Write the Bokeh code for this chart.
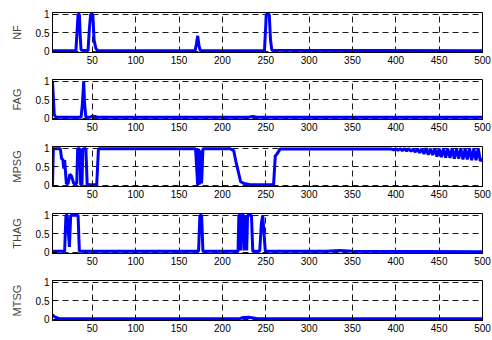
from bokeh.plotting import figure
from bokeh.layouts import column
from bokeh.models import Range1d, FixedTicker
from bokeh.embed import file_html
from bokeh.resources import INLINE

# ---------------- data ----------------
names = ["NF", "FAG", "MPSG", "THAG", "MTSG"]

nf_x = [4, 31, 32.5, 33.5, 35, 36, 37, 45, 46.5, 48, 50.5, 52, 54, 56, 168.5, 170, 171.5, 173, 174.5,
        248.5, 250, 250.5, 254, 255.5, 257, 500]
nf_y = [0.02, 0.02, 0.6, 1.0, 1.0, 0.4, 0.03, 0.02, 0.6, 1.0, 1.0, 0.3, 0.08, 0.02, 0.02, 0.2, 0.42, 0.15, 0.02,
        0.02, 0.7, 1.0, 1.0, 0.3, 0.03, 0.02]

fag_x = [4, 6, 8, 37, 38.5, 40, 41, 42.5, 47, 50, 53, 56, 230, 235, 240, 500]
fag_y = [1.0, 0.1, 0.03, 0.03, 0.4, 1.0, 0.4, 0.03, 0.03, 0.06, 0.05, 0.03, 0.03, 0.05, 0.03, 0.03]

mpsg_x = [4, 5, 13, 14.5, 16, 17, 18, 20, 22, 24, 26, 28.5, 32, 33, 35.5, 36.5, 38, 39, 42.5, 44, 55, 57,
          169, 171.5, 172.5, 173.5, 175, 176, 177.5, 209, 213, 215.5, 217, 219, 221, 225, 232, 259, 261,
          263, 266.5, 395,
          397.5, 400, 402.5, 405, 407.5, 410, 412.5, 415, 417.5, 420, 422.5, 425, 427.5, 430, 432.5, 435,
          437.5, 440, 442.5, 445, 447.5, 450, 452.5, 455, 457.5, 460, 462.5, 465, 467.5, 470, 472.5, 475,
          477.5, 480, 482.5, 485, 487.5, 490, 492.5, 495, 497.5, 500]
mpsg_y = [0.0, 0.99, 0.99, 0.72, 0.7, 0.45, 0.68, 0.05, 0.05, 0.3, 0.25, 0.05, 0.05, 0.99, 0.99, 0.02, 0.02,
          0.99, 0.99, 0.02, 0.02, 0.99,
          0.99, 0.0, 0.99, 0.02, 0.95, 0.05, 0.99, 0.99, 0.94, 0.65, 0.5, 0.3, 0.1, 0.05, 0.02, 0.02, 0.8,
          0.85, 0.98, 0.98,
          0.96, 0.99, 0.95, 0.99, 0.94, 0.99, 0.93, 0.99, 0.92, 0.98, 0.9, 0.99, 0.88, 0.99, 0.85, 1.0,
          0.83, 0.99, 0.82, 1.0, 0.78, 0.99, 0.76, 1.0, 0.75, 0.99, 0.74, 1.0, 0.72, 0.99, 0.72, 1.0,
          0.7, 0.99, 0.7, 1.0, 0.68, 0.99, 0.68, 1.0, 0.66, 0.72]

thag_x = [4, 18, 19.5, 21, 23.5, 25, 26, 33.5, 35, 172.5, 174, 176, 177.5,
          218, 219, 220.5, 221.5, 222.5, 224.5, 225.5, 226.5, 228, 229, 230, 233.5, 235, 243, 245,
          246.5, 248, 249.5, 320, 335, 350, 500]
thag_y = [0.03, 0.03, 1.0, 1.0, 0.15, 1.0, 1.0, 1.0, 0.03, 0.03, 1.0, 1.0, 0.03,
          0.03, 1.0, 1.0, 0.05, 1.0, 1.0, 0.05, 1.0, 0.05, 1.0, 1.0, 1.0, 0.03, 0.03, 0.8,
          1.0, 0.5, 0.03, 0.03, 0.05, 0.03, 0.02]

mtsg_x = [4, 6, 8, 12, 220, 224, 230, 236, 240, 500]
mtsg_y = [0.12, 0.08, 0.05, 0.02, 0.02, 0.05, 0.06, 0.04, 0.02, 0.02]

series = [(nf_x, nf_y), (fag_x, fag_y), (mpsg_x, mpsg_y), (thag_x, thag_y), (mtsg_x, mtsg_y)]

x_ticks = [50, 100, 150, 200, 250, 300, 350, 400, 450, 500]
y_ticks = [0, 0.5, 1]
y_tick_labels = {0: "0", 0.5: "0.5", 1: "1"}

FONT = "Liberation Sans"

figs = []
for i, (name, (xs, ys)) in enumerate(zip(names, series)):
    last = i == len(names) - 1
    h = 72 if last else 67
    p = figure(width=492, height=h, output_backend="svg", toolbar_location=None,
               x_range=Range1d(4, 500), y_range=Range1d(-0.03, 1.05),
               min_border_left=52, min_border_right=10, min_border_top=12,
               min_border_bottom=(20 if last else 15))
    p.line(xs, ys, line_color="#0000ff", line_width=3)

    p.xaxis.ticker = FixedTicker(ticks=x_ticks)
    p.yaxis.ticker = FixedTicker(ticks=y_ticks)
    p.yaxis.major_label_overrides = y_tick_labels
    for ax in (p.xaxis[0], p.yaxis[0]):
        ax.major_tick_in = 4
        ax.major_tick_out = 0
        ax.minor_tick_in = 0
        ax.minor_tick_out = 0
        ax.axis_line_color = "black"
        ax.major_tick_line_color = "black"
        ax.major_label_text_font = FONT
        ax.major_label_text_font_size = "10px"
        ax.major_label_text_color = "black"
        ax.major_label_standoff = 3
    p.yaxis.axis_label = name
    p.yaxis.axis_label_text_font = FONT
    p.yaxis.axis_label_text_font_size = "11px"
    p.yaxis.axis_label_text_font_style = "normal"
    p.yaxis.axis_label_standoff = 10

    p.xgrid.ticker = FixedTicker(ticks=x_ticks)
    p.ygrid.ticker = FixedTicker(ticks=y_ticks)
    for g in (p.xgrid[0], p.ygrid[0]):
        g.grid_line_color = "black"
        g.grid_line_dash = "6 4"
        g.grid_line_width = 1
        g.grid_line_alpha = 0.9

    p.outline_line_color = "black"
    p.outline_line_alpha = 1
    p.outline_line_width = 1
    p.background_fill_color = "white"
    p.border_fill_color = "white"
    figs.append(p)

layout = column(*figs, spacing=0)
open("out.html", "w").write(file_html(layout, INLINE))
